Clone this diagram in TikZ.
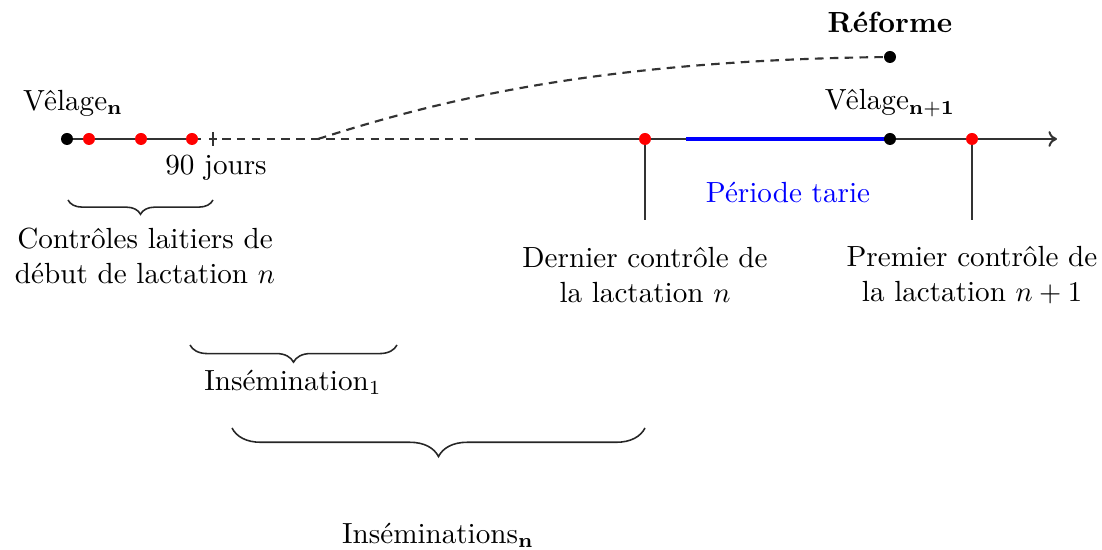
\documentclass[tikz,border=0pt]{standalone}
\usetikzlibrary{decorations.pathreplacing,arrows.meta}
\begin{document}
\begin{tikzpicture}[x=0.35pt,y=-0.35pt,
  axisline/.style={draw=black!80,line width=0.7pt},
  dashline/.style={draw=black!80,line width=0.75pt,dash pattern=on 3pt off 2.2pt},
  bdot/.style={circle,fill=black,inner sep=0pt,minimum size=4.2pt},
  rdot/.style={circle,fill=red,inner sep=0pt,minimum size=4.2pt},
  lbl/.style={align=center,inner sep=0pt,font=\fontsize{10.2}{12.5}\selectfont},
  brc/.style={decorate,draw=black!85,line width=0.55pt,decoration={brace,amplitude=#1}}]
\useasboundingbox (0,0) rectangle (1102,550);
% positions
\coordinate (p0) at (67,139);
\coordinate (p1) at (89,139);
\coordinate (p2) at (141,139);
\coordinate (p3) at (192,139);
\coordinate (se) at (201,139);
\coordinate (tk) at (213,139);
\coordinate (ds) at (222,139);
\coordinate (cs) at (318,139);
\coordinate (de) at (482,139);
\coordinate (pd) at (645,139);
\coordinate (bs) at (686,139);
\coordinate (pv) at (890,139);
\coordinate (pp) at (972,139);
\coordinate (pe) at (1057,139);
\coordinate (pr) at (890,57);
\coordinate (dd) at (645,220);
\coordinate (pd2) at (972,220);
% lines
\draw[axisline] (p0) -- (se);
\draw[axisline] (213,132) -- (213,146);
\draw[axisline] (209,139) -- (217,139);
\draw[dashline] (ds) -- (de);
\draw[axisline,-{To[length=3pt,width=5.5pt]}] (de) -- (pe);
\draw[blue,line width=1.6pt] (bs) -- (pv);
\draw[dashline] (cs) .. controls (440,100) and (600,60) .. (pr);
\draw[axisline] (pd) -- (dd);
\draw[axisline] (pp) -- (pd2);
% dots
\node[bdot] (v0) at (p0) {};
\node[rdot] (c1) at (p1) {};
\node[rdot] (c2) at (p2) {};
\node[rdot] (c3) at (p3) {};
\node[rdot] (dc) at (pd) {};
\node[bdot] (v1) at (pv) {};
\node[rdot] (pc) at (pp) {};
\node[bdot] (ref) at (pr) {};
% labels
\node[lbl] (lv0) at (73,103) {V\^elage$_{\mathbf{n}}$};
\node[lbl] (lv1) at (890,103) {V\^elage$_{\mathbf{n+1}}$};
\node[lbl] (lref) at (890,22) {\textbf{R\'eforme}};
\node[lbl] (l90) at (216,168) {90 jours};
\node[lbl,text=blue] (lpt) at (788,192) {P\'eriode tarie};
\node[lbl] (lctl) at (145,256) {Contr\^oles laitiers de\\d\'ebut de lactation $n$};
\node[lbl] (ldc) at (645,275) {Dernier contr\^ole de\\la lactation $n$};
\node[lbl] (lpc) at (972,275) {Premier contr\^ole de\\la lactation $n+1$};
\node[lbl] (li1) at (293,382) {Ins\'emination$_1$};
\node[lbl] (lin) at (438,535) {Ins\'eminations$_{\mathbf{n}}$};
% braces
\draw[brc=5pt] (213,200) -- (68,200);
\draw[brc=6pt] (397,345) -- (190,345);
\draw[brc=10pt] (645,428) -- (232,428);
\end{tikzpicture}
\end{document}
